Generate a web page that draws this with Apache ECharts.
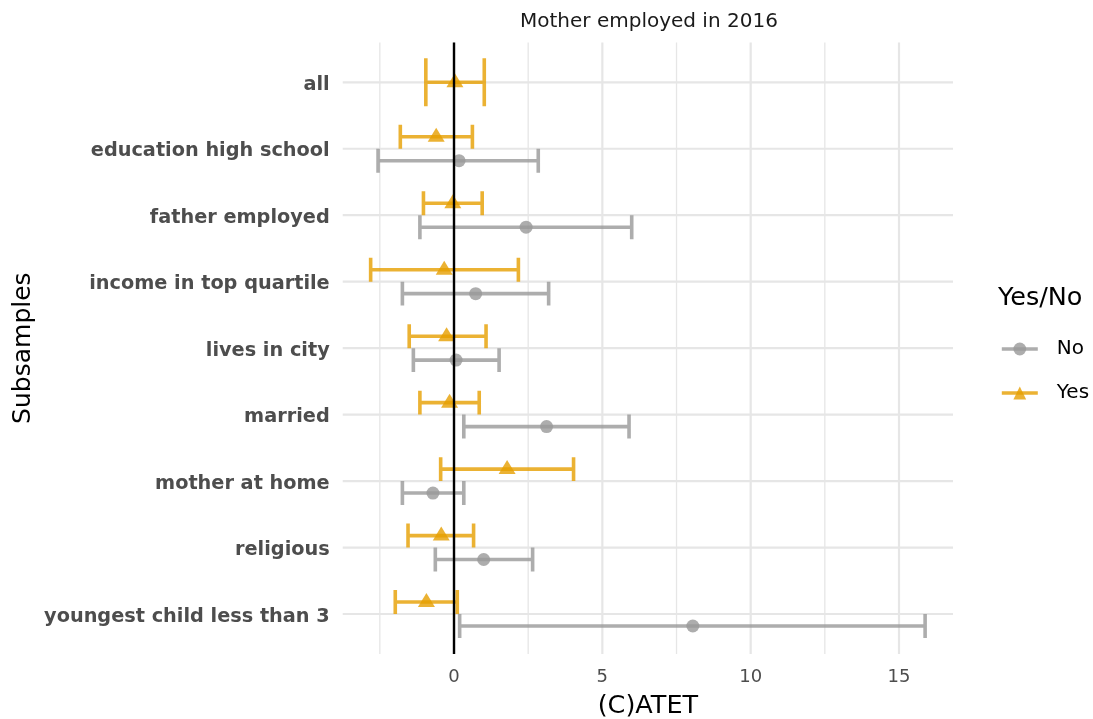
<!DOCTYPE html>
<html>
<head>
<meta charset="utf-8">
<script src="https://cdn.jsdelivr.net/npm/echarts@6/dist/echarts.min.js"></script>
<style>
  html, body { margin: 0; padding: 0; background: #ffffff; }
  #chart { width: 1093px; height: 719px; }
</style>
</head>
<body>
<div id="chart"></div>
<script>
// Subsamples (top to bottom) and (C)ATET estimates with confidence bounds
const categories = [
  'all',
  'education high school',
  'father employed',
  'income in top quartile',
  'lives in city',
  'married',
  'mother at home',
  'religious',
  'youngest child less than 3'
];
const yesEst  = [0.03, -0.60, -0.04, -0.33, -0.25, -0.15, 1.79, -0.43, -0.93];
const yesLow  = [-0.95, -1.81, -1.03, -2.81, -1.51, -1.15, -0.45, -1.55, -1.98];
const yesHigh = [1.02, 0.62, 0.95, 2.17, 1.08, 0.85, 4.03, 0.66, 0.11];
const noEst   = [null, 0.17, 2.43, 0.73, 0.07, 3.12, -0.71, 1.00, 8.05];
const noLow   = [null, -2.56, -1.15, -1.74, -1.37, 0.33, -1.74, -0.63, 0.19];
const noHigh  = [null, 2.84, 5.99, 3.19, 1.52, 5.90, 0.33, 2.65, 15.88];
const xTickLabels = [0, 5, 10, 15];
const xMajorGrid = [0, 5, 10, 15];
const xMinorGrid = [-2.5, 2.5, 7.5, 12.5];

const FONT = '"DejaVu Sans", sans-serif';
const YES_COLOR = 'rgba(230,159,0,0.8)';
const NO_COLOR = 'rgba(153,153,153,0.8)';
const GRID_COLOR = '#e6e6e6';
const DODGE = 0.72;

// position_dodge: paired groups share the slot, a lone group takes the full width
function dodged(est, lo, hi, other, sign) {
  const out = [];
  est.forEach((v, i) => {
    if (v == null) return;
    const paired = other[i] != null;
    const pos = paired ? i + sign * DODGE / 4 : i;
    const half = paired ? DODGE / 4 : DODGE / 2;
    out.push({ est: v, lo: lo[i], hi: hi[i], pos: pos, half: half });
  });
  return out;
}
const yesRows = dodged(yesEst, yesLow, yesHigh, noEst, -1);
const noRows = dodged(noEst, noLow, noHigh, yesEst, 1);

function errorBarSeries(name, rows, color) {
  return {
    name: name,
    type: 'custom',
    z: 3,
    silent: true,
    animation: false,
    encode: { x: [0, 1], y: 2 },
    data: rows.map(r => [r.lo, r.hi, r.pos, r.half]),
    renderItem: function (params, api) {
      const pos = api.value(2);
      const a = api.coord([api.value(0), pos]);
      const b = api.coord([api.value(1), pos]);
      const h = api.size([0, api.value(3)])[1];
      return {
        type: 'polyline',
        shape: {
          points: [
            [a[0], a[1] - h], [a[0], a[1] + h], [a[0], a[1]],
            [b[0], b[1]], [b[0], b[1] - h], [b[0], b[1] + h]
          ]
        },
        style: { stroke: color, lineWidth: 3.6, fill: null, lineJoin: 'miter' }
      };
    }
  };
}

function pointSeries(name, rows, color, symbol, size, offset) {
  return {
    name: name,
    type: 'line',
    z: 4,
    silent: true,
    animation: false,
    symbol: symbol,
    symbolSize: size,
    symbolOffset: offset,
    showSymbol: true,
    lineStyle: { color: color, width: 3.6, opacity: 0 },
    itemStyle: { color: color, borderWidth: 0 },
    data: rows.map(r => [r.est, r.pos])
  };
}

function gridLines(values, vertical, width, color, z) {
  return {
    type: 'custom',
    z: z,
    silent: true,
    animation: false,
    encode: vertical ? { x: 0 } : { y: 1 },
    data: values.map(v => vertical ? [v, 0] : [0, v]),
    renderItem: function (params, api) {
      const cs = params.coordSys;
      if (vertical) {
        const x = api.coord([api.value(0), 0])[0];
        return { type: 'line', shape: { x1: x, y1: cs.y, x2: x, y2: cs.y + cs.height },
                 style: { stroke: color, lineWidth: width } };
      }
      const y = api.coord([0, api.value(1)])[1];
      return { type: 'line', shape: { x1: cs.x, y1: y, x2: cs.x + cs.width, y2: y },
               style: { stroke: color, lineWidth: width } };
    }
  };
}

const chart = echarts.init(document.getElementById('chart'), null, { renderer: 'canvas' });
chart.setOption({
  animation: false,
  backgroundColor: '#ffffff',
  title: [
    {
      text: 'Mother employed in 2016',
      left: 520, top: 12, padding: 0,
      textStyle: { fontFamily: FONT, fontSize: 20, fontWeight: 'normal', color: '#1a1a1a' }
    },
    {
      text: 'Yes/No',
      left: 998, top: 285, padding: 0,
      textStyle: { fontFamily: FONT, fontSize: 25.5, fontWeight: 'normal', color: '#000000' }
    }
  ],
  legend: {
    orient: 'vertical',
    left: 1000, top: 339,
    padding: 0,
    itemWidth: 36, itemHeight: 16, itemGap: 24,
    data: ['No', 'Yes'],
    lineStyle: { opacity: 1, width: 3.6 },
    textStyle: { fontFamily: FONT, fontSize: 20, color: '#000000', padding: [0, 0, 0, 14] },
    selectedMode: false
  },
  grid: {
    left: 342.7, right: 140, top: 42.4, bottom: 65.1,
    containLabel: false,
    outerBoundsMode: 'none'
  },
  xAxis: {
    type: 'value',
    min: -3.752, max: 16.82,
    name: '(C)ATET',
    nameLocation: 'middle',
    nameGap: 39,
    nameMoveOverlap: false,
    nameTextStyle: { fontFamily: FONT, fontSize: 25.5, color: '#000000', verticalAlign: 'top' },
    axisLine: { show: false },
    axisTick: { show: false },
    splitLine: { show: false },
    axisLabel: {
      customValues: xTickLabels,
      margin: 14,
      fontFamily: FONT, fontSize: 18, color: '#4d4d4d'
    }
  },
  yAxis: {
    type: 'value',
    min: -0.6, max: 8.6,
    inverse: true,
    name: 'Subsamples',
    nameLocation: 'middle',
    nameGap: 307,
    nameRotate: 90,
    nameMoveOverlap: false,
    nameTextStyle: { fontFamily: FONT, fontSize: 25, color: '#000000' },
    axisLine: { show: false },
    axisTick: { show: false },
    splitLine: { show: false },
    axisLabel: {
      customValues: categories.map((_, i) => i),
      formatter: v => categories[Math.round(v)] || '',
      margin: 13,
      verticalAlign: 'top',
      lineHeight: 5,
      fontFamily: FONT, fontSize: 19.3, fontWeight: 'bold', color: '#4d4d4d'
    }
  },
  series: [
    pointSeries('No', noRows, NO_COLOR, 'circle', 13, [0, 0]),
    pointSeries('Yes', yesRows, YES_COLOR, 'triangle', [17, 14], [0, -2]),
    gridLines(xMinorGrid, true, 1.3, GRID_COLOR, 0),
    gridLines(xMajorGrid, true, 2.2, GRID_COLOR, 0),
    gridLines(categories.map((_, i) => i), false, 2.2, GRID_COLOR, 0),
    errorBarSeries('No', noRows, NO_COLOR),
    errorBarSeries('Yes', yesRows, YES_COLOR),
    gridLines([0], true, 2.4, '#000000', 6)
  ]
});
</script>
</body>
</html>
